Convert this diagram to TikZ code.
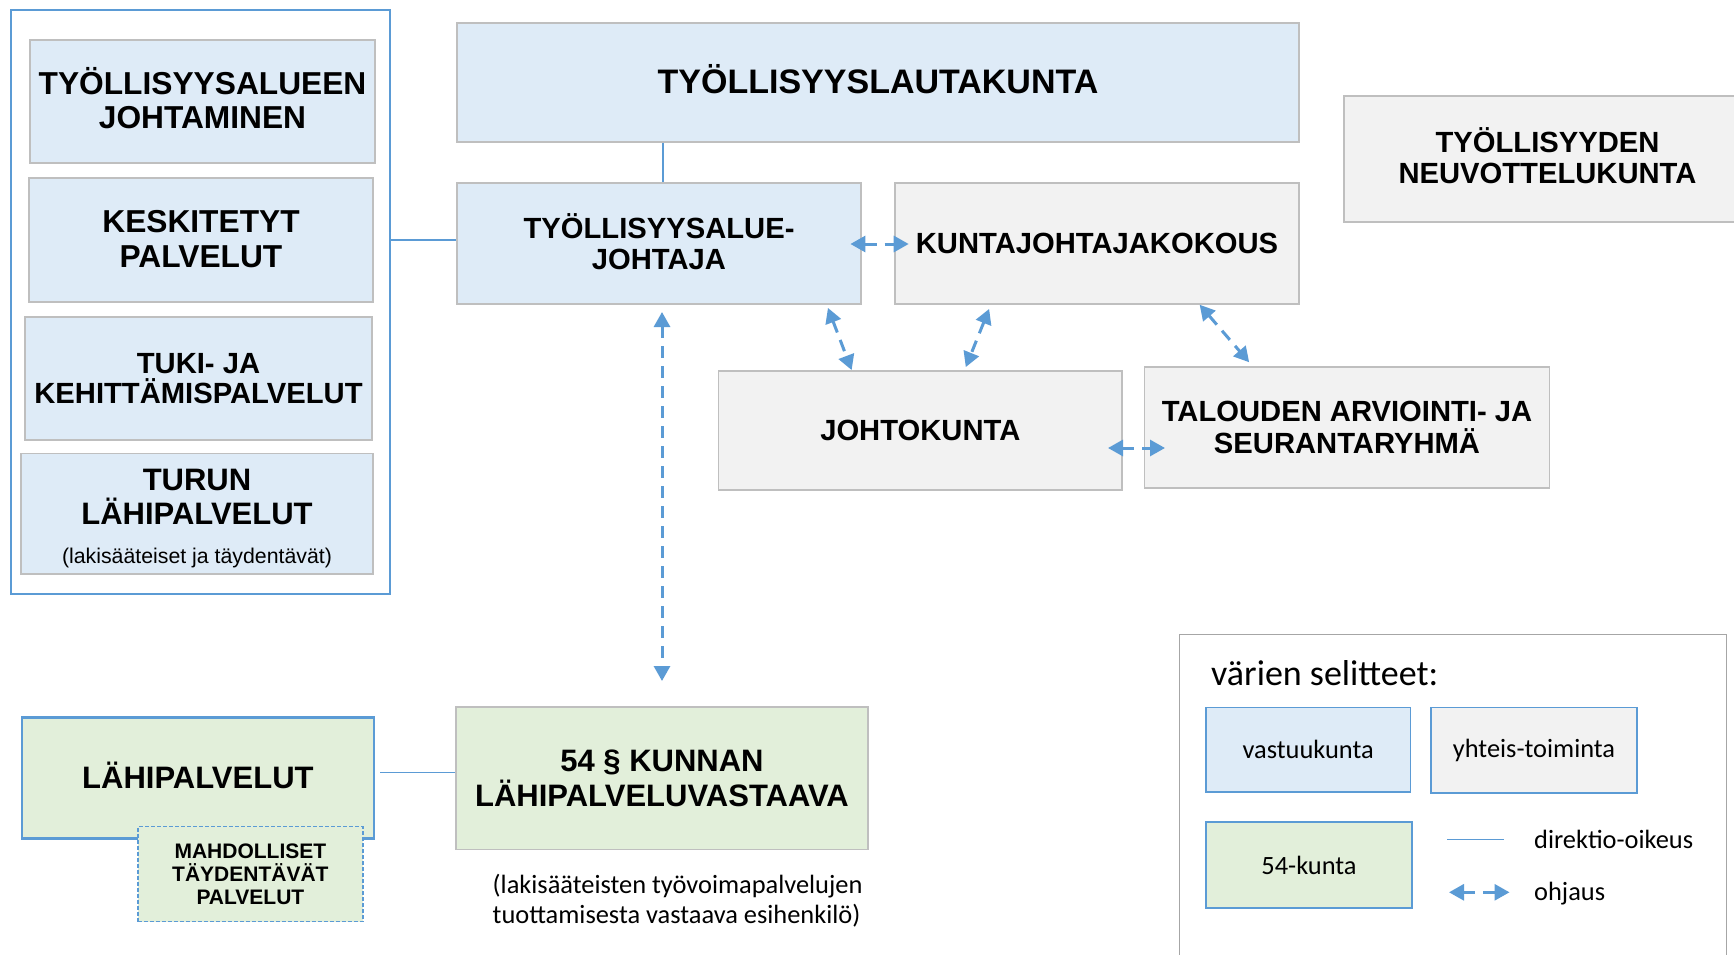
\documentclass[tikz,border=0pt]{standalone}
\usepackage{fontspec}
\setmainfont{Liberation Sans}
\newfontfamily\calfont{Carlito}
\usetikzlibrary{arrows.meta,calc}
\definecolor{bfill}{HTML}{DEEBF7}
\definecolor{gfill}{HTML}{F2F2F2}
\definecolor{grfill}{HTML}{E2EFDA}
\definecolor{bord}{HTML}{BFBFBF}
\definecolor{lblue}{HTML}{5B9BD5}
\definecolor{legbord}{HTML}{A6A6A6}
\newcommand{\updep}[1]{\rule[-#1pt]{0pt}{#1pt}}
\begin{document}
\begin{tikzpicture}[x=1pt,y=-1pt,
  box/.style={draw=bord,line width=1.5pt,inner sep=0pt,align=center},
  bigf/.style={font=\bfseries\fontsize{31.7pt}{34.5pt}\selectfont},
  midf/.style={font=\bfseries\fontsize{29.2pt}{31pt}\selectfont},
  legbox/.style={draw=lblue,line width=1.5pt,inner sep=0pt,align=center,font=\calfont\fontsize{26.4pt}{30pt}\selectfont},
  dirl/.style={draw=lblue,line width=1.5pt},
  ohj/.style={draw=lblue,line width=3pt,dash pattern=on 12pt off 8pt,<->,>={Triangle[length=15pt,width=16pt]},shorten <=1pt,shorten >=1pt}
]
\useasboundingbox (0,0) rectangle (1734,955);
\fill[white] (0,0) rectangle (1734,955);

% left group
\node[draw=lblue,line width=1.3pt,inner sep=0pt,minimum width=379pt,minimum height=584pt] (grp) at (200.5,302) {};
\node[box,fill=bfill,bigf,minimum width=345pt,minimum height=123pt] (ja) at (202.5,101.5) {TYÖLLISYYSALUEEN\\JOHTAMINEN\updep{6.6}};
\node[box,fill=bfill,bigf,minimum width=344pt,minimum height=124pt] (kp) at (201,240) {KESKITETYT\\PALVELUT\updep{2}};
\node[box,fill=bfill,font=\bfseries\fontsize{29.2pt}{30.5pt}\selectfont,minimum width=347pt,minimum height=123pt] (tk) at (198.5,378.5) {TUKI- JA\\KEHITTÄMISPALVELUT};
\node[box,fill=bfill,font=\bfseries\fontsize{31pt}{34pt}\selectfont,minimum width=352pt,minimum height=120.5pt] (tl) at (197,513.75) {\rule{0pt}{30.5pt}TURUN\\LÄHIPALVELUT\\[5pt]{\mdseries\fontsize{21.3pt}{24pt}\selectfont(lakisääteiset ja täydentävät)}};

% top
\node[box,fill=bfill,font=\bfseries\fontsize{34pt}{38pt}\selectfont,minimum width=842pt,minimum height=119pt] (laut) at (878,82.5) {TYÖLLISYYSLAUTAKUNTA\updep{6.6}};
\node[box,fill=bfill,midf,minimum width=404pt,minimum height=121pt] (joh) at (659,243.5) {TYÖLLISYYSALUE-\\JOHTAJA\updep{4.4}};
\node[box,fill=gfill,midf,minimum width=404pt,minimum height=121pt] (kunta) at (1097,243.5) {KUNTAJOHTAJAKOKOUS};
\node[box,fill=gfill,midf,minimum width=407pt,minimum height=126pt] (neuv) at (1547.5,159) {TYÖLLISYYDEN\\NEUVOTTELUKUNTA\updep{6}};
\node[box,fill=gfill,midf,minimum width=403.4pt,minimum height=119pt] (jk) at (920.3,430.5) {JOHTOKUNTA};
\node[box,fill=gfill,font=\bfseries\fontsize{29.2pt}{32pt}\selectfont,minimum width=405pt,minimum height=121pt] (tal) at (1347,427.5) {TALOUDEN ARVIOINTI- JA\\SEURANTARYHMÄ};

% bottom
\node[draw=lblue,line width=2.5pt,fill=grfill,inner sep=0pt,align=center,font=\bfseries\fontsize{31pt}{34pt}\selectfont,minimum width=352pt,minimum height=121pt] (lahi) at (197.9,778.2) {LÄHIPALVELUT\updep{6.6}};
\node[draw=lblue,line width=1.5pt,dash pattern=on 4pt off 2pt,fill=grfill,inner sep=0pt,align=center,font=\bfseries\fontsize{21pt}{23pt}\selectfont,minimum width=225pt,minimum height=95pt] (mahd) at (250.4,874.2) {MAHDOLLISET\\TÄYDENTÄVÄT\\PALVELUT};
\node[box,fill=grfill,font=\bfseries\fontsize{31pt}{35pt}\selectfont,minimum width=412pt,minimum height=142.3pt] (lpv) at (662,778.15) {54 § KUNNAN\\LÄHIPALVELUVASTAAVA};
\node[anchor=west,align=left,inner sep=0pt,font=\calfont\fontsize{26.4pt}{30pt}\selectfont] (cap) at (492.5,900.5) {(lakisääteisten työvoimapalvelujen\\tuottamisesta vastaava esihenkilö)};

% direktio lines
\coordinate (cx) at (663,0);
\coordinate (cy1) at (0,240);
\coordinate (cy2) at (0,772.7);
\draw[dirl] (laut.south -| cx) -- (joh.north -| cx);
\draw[dirl] (grp.east |- cy1) -- (joh.west |- cy1);
\draw[dirl] ($(lahi.east |- cy2)+(5,0)$) -- (lpv.west |- cy2);

% ohjaus arrows
\coordinate (a1s) at (849.4,244);  \coordinate (a1e) at (909.7,244);
\coordinate (a2s) at (662,311);    \coordinate (a2e) at (662,682);
\coordinate (a3s) at (827.6,307);  \coordinate (a3e) at (852,371);
\coordinate (a4s) at (989.5,308);  \coordinate (a4e) at (965.4,368);
\coordinate (a5s) at (1199,304);   \coordinate (a5e) at (1249.8,363);
\coordinate (a6s) at (1107,448);   \coordinate (a6e) at (1166,448);
\draw[ohj] (a1s) -- (a1e);
\draw[ohj] (a2s) -- (a2e);
\draw[ohj] (a3s) -- (a3e);
\draw[ohj] (a4s) -- (a4e);
\draw[ohj] (a5s) -- (a5e);
\draw[ohj] (a6s) -- (a6e);

% legend
\node[draw=legbord,line width=1.3pt,inner sep=0pt,minimum width=546.7pt,minimum height=340pt] (leg) at (1453.15,804.7) {};
\node[anchor=base west,inner sep=0pt,font=\calfont\fontsize{36pt}{40pt}\selectfont] (legt) at (1211,685) {värien selitteet:};
\node[legbox,fill=bfill,minimum width=204.4pt,minimum height=84.3pt] (lv) at (1308.1,749.85) {vastuukunta};
\node[legbox,fill=gfill,minimum width=206pt,minimum height=85.3pt] (ly) at (1534,750.35) {yhteis-toiminta};
\node[legbox,fill=grfill,minimum width=206pt,minimum height=86pt] (l54) at (1309,865) {54-kunta};
\coordinate (ld1) at (1447,839.3); \coordinate (ld2) at (1503.8,839.3);
\draw[dirl] (ld1) -- (ld2);
\node[anchor=base west,inner sep=0pt,font=\calfont\fontsize{26.4pt}{30pt}\selectfont] (ldt) at (1534,848) {direktio-oikeus};
\coordinate (lo1) at (1448,892.3); \coordinate (lo2) at (1510.5,892.3);
\draw[ohj] (lo1) -- (lo2);
\node[anchor=base west,inner sep=0pt,font=\calfont\fontsize{26.4pt}{30pt}\selectfont] (lot) at (1534,900) {ohjaus};
\end{tikzpicture}
\end{document}
